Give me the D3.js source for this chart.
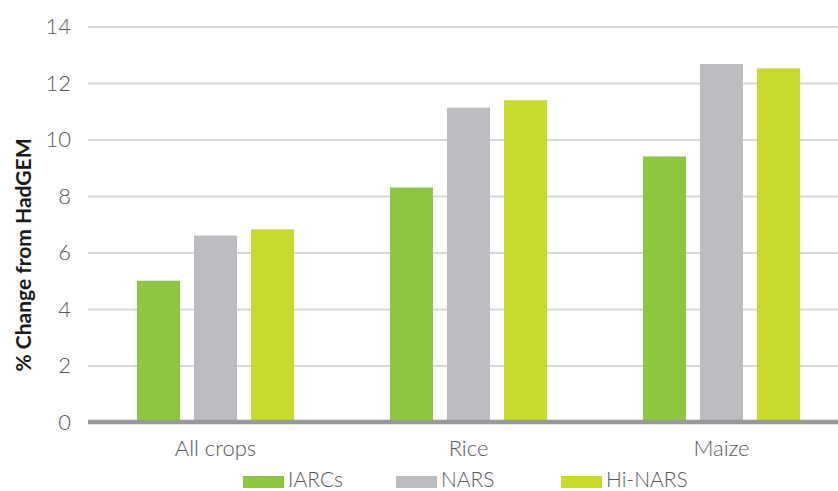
<!DOCTYPE html>
<html>
<head>
<meta charset="utf-8">
<script src="https://cdn.jsdelivr.net/npm/d3@7/dist/d3.min.js"></script>
<style>
  html, body { margin: 0; padding: 0; background: #fff; }
  svg { display: block; }
  text { font-family: Lato, "Open Sans", sans-serif; }
</style>
</head>
<body>
<svg id="chart" width="838" height="491"></svg>
<script>
// Crop categories and series
const categories = ["All crops", "Rice", "Maize"];
const seriesNames = ["IARCs", "NARS", "Hi-NARS"];
const iarcs = [5.0, 8.3, 9.4];
const nars = [6.6, 11.13, 12.67];
const hiNars = [6.82, 11.39, 12.52];
const yTicks = [0, 2, 4, 6, 8, 10, 12, 14];
const colors = ["#8dc63f", "#bcbdc0", "#c8da2b"];

const seriesValues = [iarcs, nars, hiNars];
const rows = categories.map((c, i) => ({
  category: c,
  values: seriesNames.map((s, j) => ({ series: s, value: seriesValues[j][i] }))
}));

const svg = d3.select("#chart");
const plotLeft = 88, plotRight = 838;

const y = d3.scaleLinear().domain([0, 14]).range([422, 26.5]);
const x0 = d3.scaleBand().domain(categories).range([89, 848]).padding(0);
const x1 = d3.scaleBand().domain(seriesNames).range([-78.5, 78.5])
  .paddingInner(14 / 57).paddingOuter(0);
const color = d3.scaleOrdinal().domain(seriesNames).range(colors);

// Horizontal gridlines and tick labels
const yAxis = d3.axisLeft(y).tickValues(yTicks).tickSize(0).tickPadding(0);
const gy = svg.append("g").call(yAxis);
gy.select(".domain").remove();
gy.selectAll(".tick text")
  .attr("x", 71)
  .attr("dy", "0.34em")
  .attr("text-anchor", "end")
  .style("font-family", "Lato, sans-serif")
  .style("font-weight", 300)
  .style("font-size", "22px")
  .attr("fill", "#58595b");
gy.selectAll(".tick").filter(d => d !== 0)
  .insert("line", "text")
  .attr("x1", plotLeft).attr("x2", plotRight)
  .attr("stroke", "#d9d9d9").attr("stroke-width", 2);

// Bars
const groups = svg.append("g").selectAll("g")
  .data(rows).join("g")
  .attr("transform", d => `translate(${x0(d.category) + x0.bandwidth() / 2},0)`);
groups.selectAll("rect")
  .data(d => d.values).join("rect")
  .attr("x", d => x1(d.series))
  .attr("width", x1.bandwidth())
  .attr("y", d => y(d.value))
  .attr("height", d => y(0) - y(d.value))
  .attr("fill", d => color(d.series));

// Baseline axis
svg.append("line")
  .attr("x1", plotLeft).attr("x2", plotRight)
  .attr("y1", y(0)).attr("y2", y(0))
  .attr("stroke", "#98999b").attr("stroke-width", 4.5);

// Category labels
const xAxis = d3.axisBottom(x0).tickSize(0).tickPadding(0);
const gx = svg.append("g").call(xAxis);
gx.select(".domain").remove();
gx.selectAll(".tick text")
  .attr("y", 456)
  .attr("dy", 0)
  .style("font-family", "Lato, sans-serif")
  .style("font-weight", 300)
  .style("font-size", "22px")
  .attr("fill", "#58595b");

// Axis title
svg.append("text")
  .attr("transform", "translate(31,255) rotate(-90)")
  .attr("text-anchor", "middle")
  .style("font-family", "Lato, sans-serif")
  .style("font-weight", 700)
  .style("font-size", "21px")
  .attr("fill", "#1a1a1a")
  .text("% Change from HadGEM");

// Legend
const legendX = [243, 396, 561];
const legend = svg.append("g").selectAll("g")
  .data(seriesNames).join("g")
  .attr("transform", (d, i) => `translate(${legendX[i]},0)`);
legend.append("rect")
  .attr("x", 0).attr("y", 476)
  .attr("width", 41).attr("height", 12)
  .attr("fill", d => color(d));
legend.append("text")
  .attr("x", 45).attr("y", 487)
  .style("font-family", "Lato, sans-serif")
  .style("font-weight", 300)
  .style("font-size", "21px")
  .attr("fill", "#58595b")
  .text(d => d);
</script>
</body>
</html>
